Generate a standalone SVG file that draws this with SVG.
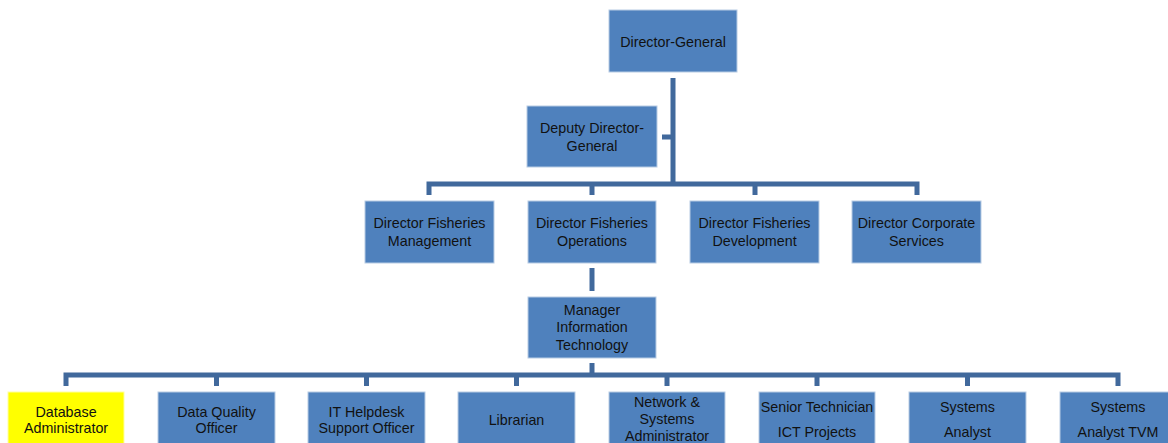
<svg xmlns="http://www.w3.org/2000/svg" width="1168" height="443" viewBox="0 0 1168 443">
<style>
.box{fill:#4F81BD;stroke:#B8CCE4;stroke-width:1}
.hl{fill:#FFFF00;stroke:#FFFFA0;stroke-width:1}
.t{font-family:"Liberation Sans",Arial,sans-serif;font-size:14.3px;fill:#111;text-anchor:middle}
.c{stroke:#41699C;stroke-width:5;fill:none;stroke-linecap:butt}
</style>
<rect width="1168" height="443" fill="#fff"/>
<g id="connectors">
<path class="c" d="M673 78V186M662 137H673"/>
<path class="c" d="M429 195V184H917V195M592 184V195M755 184V195"/>
<path class="c" d="M592 268V291"/>
<path class="c" d="M592 363V375"/>
<path class="c" d="M66 386V375H1118V386M216.5 375V386M366.5 375V386M516.5 375V386M667 375V386M817 375V386M967.5 375V386"/>
</g>
<g id="dg"><rect class="box" x="609" y="10" width="128" height="62"/><text class="t" x="673" y="47">Director-General</text></g>
<g id="ddg"><rect class="box" x="527" y="106" width="130" height="61"/><text class="t" x="592" y="133">Deputy Director-</text><text class="t" x="592" y="151">General</text></g>
<g id="dfm"><rect class="box" x="365" y="201" width="129" height="62"/><text class="t" x="429.5" y="228">Director Fisheries</text><text class="t" x="429.5" y="246">Management</text></g>
<g id="dfo"><rect class="box" x="528" y="201" width="128" height="62"/><text class="t" x="592" y="228">Director Fisheries</text><text class="t" x="592" y="246">Operations</text></g>
<g id="dfd"><rect class="box" x="690" y="201" width="129" height="62"/><text class="t" x="754.5" y="228">Director Fisheries</text><text class="t" x="754.5" y="246">Development</text></g>
<g id="dcs"><rect class="box" x="852" y="201" width="129" height="62"/><text class="t" x="916.5" y="228">Director Corporate</text><text class="t" x="916.5" y="246">Services</text></g>
<g id="mit"><rect class="box" x="528" y="297" width="128" height="61"/><text class="t" x="592" y="315">Manager</text><text class="t" x="592" y="332">Information</text><text class="t" x="592" y="350">Technology</text></g>
<g id="dba"><rect class="hl" x="8" y="392" width="116" height="62"/><text class="t" x="66" y="417">Database</text><text class="t" x="66" y="433">Administrator</text></g>
<g id="dqo"><rect class="box" x="158" y="392" width="117" height="62"/><text class="t" x="216.5" y="417">Data Quality</text><text class="t" x="216.5" y="433">Officer</text></g>
<g id="ith"><rect class="box" x="308" y="392" width="117" height="62"/><text class="t" x="366.5" y="417">IT Helpdesk</text><text class="t" x="366.5" y="433">Support Officer</text></g>
<g id="lib"><rect class="box" x="458" y="392" width="117" height="62"/><text class="t" x="516.5" y="425">Librarian</text></g>
<g id="nsa"><rect class="box" x="609" y="392" width="116" height="62"/><text class="t" x="667" y="407">Network &amp;</text><text class="t" x="667" y="424">Systems</text><text class="t" x="667" y="441">Administrator</text></g>
<g id="stp"><rect class="box" x="759" y="392" width="116" height="62"/><text class="t" x="817" y="412">Senior Technician</text><text class="t" x="817" y="437">ICT Projects</text></g>
<g id="sa"><rect class="box" x="909" y="392" width="117" height="62"/><text class="t" x="967.5" y="412">Systems</text><text class="t" x="967.5" y="437">Analyst</text></g>
<g id="satvm"><rect class="box" x="1060" y="392" width="117" height="62"/><text class="t" x="1118" y="412">Systems</text><text class="t" x="1118" y="437">Analyst TVM</text></g>
</svg>
